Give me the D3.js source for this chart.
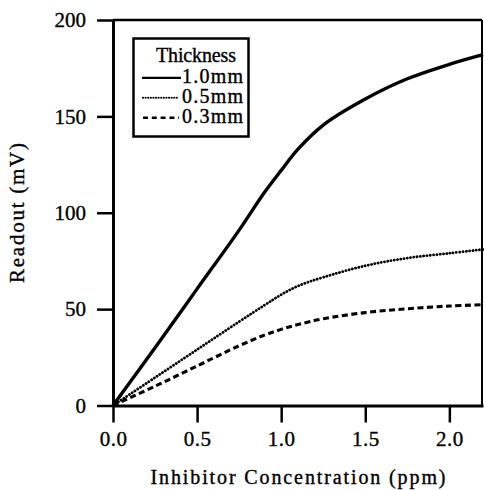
<!DOCTYPE html>
<html><head><meta charset="utf-8">
<script src="https://cdn.jsdelivr.net/npm/d3@7"></script>
<style>
html,body{margin:0;padding:0;background:#fff;}
svg{display:block;}
</style></head>
<body>
<svg id="chart" width="484" height="490"></svg>
<script>
// ---- data ----
const concentration = [0, 0.25, 0.5, 0.75, 0.9, 1.0, 1.1, 1.25, 1.5, 1.75, 2.0, 2.2];
const readout10 = [0, 30, 60.5, 91, 110.5, 122, 133, 145.5, 159, 169.5, 177, 182];
const readout05 = [0, 14.5, 29, 43.5, 52, 57.5, 62, 66.5, 72.5, 76.5, 79, 81];
const readout03 = [0, 10, 20.5, 31, 36.5, 39.5, 42, 45, 48.2, 50.2, 51.6, 52.3];
const seriesNames = ["1.0mm", "0.5mm", "0.3mm"];
const xTicks = [0, 0.5, 1.0, 1.5, 2.0];
const yTicks = [0, 50, 100, 150, 200];
const xTitle = "Inhibitor  Concentration (ppm)";
const yTitle = "Readout (mV)";
const legendTitle = "Thickness";

const FONT = "Liberation Serif";
const svg = d3.select("#chart");
const L = 113, R = 483, T = 20, B = 405.5;
const x = d3.scaleLinear().domain([0, 2.2]).range([L, R]);
const y = d3.scaleLinear().domain([0, 200]).range([B, T]);

function ink(sel) { return sel.attr("font-family", FONT).attr("fill", "#000").attr("stroke", "#000").attr("stroke-width", 0.35); }

// frame top/right
svg.append("line").attr("x1", L).attr("x2", R - 1).attr("y1", T).attr("y2", T)
  .attr("stroke", "#000").attr("stroke-width", 2.5);
svg.append("line").attr("x1", R - 1).attr("x2", R - 1).attr("y1", T).attr("y2", B)
  .attr("stroke", "#000").attr("stroke-width", 2);

// axes
const yAxis = svg.append("g").attr("transform", `translate(${L},0)`)
  .call(d3.axisLeft(y).tickValues(yTicks).tickSize(16).tickSizeOuter(0).tickPadding(11));
const xAxis = svg.append("g").attr("transform", `translate(0,${B})`)
  .call(d3.axisBottom(x).tickValues(xTicks).tickSize(17).tickSizeOuter(0).tickPadding(9).tickFormat(d3.format(".1f")));
[yAxis, xAxis].forEach(g => {
  g.attr("font-family", FONT);
  g.select(".domain").attr("stroke", "#000").attr("stroke-width", 3);
  g.selectAll(".tick line").attr("stroke", "#000").attr("stroke-width", 2.5);
  ink(g.selectAll(".tick text")).attr("font-size", 21);
});
xAxis.selectAll(".tick text").attr("letter-spacing", 0.5);

// titles
ink(svg.append("text")).attr("x", 298).attr("y", 484).attr("text-anchor", "middle")
  .attr("font-size", 20).attr("textLength", 295).text(xTitle);
ink(svg.append("text")).attr("transform", "translate(24,213) rotate(-90)").attr("text-anchor", "middle")
  .attr("font-size", 21).attr("textLength", 140).text(yTitle);

// lines
const series = [
  {name: seriesNames[0], vals: readout10, w: 3.4, dash: null, cap: "butt"},
  {name: seriesNames[1], vals: readout05, w: 2.8, dash: "0.1,3.2", cap: "round"},
  {name: seriesNames[2], vals: readout03, w: 3.1, dash: "6,3.5", cap: "butt"}
];
const line = d3.line().x(d => x(d[0])).y(d => y(d[1])).curve(d3.curveCatmullRom.alpha(0.5));
series.forEach(s => {
  svg.append("path")
    .datum(concentration.map((c, i) => [c, s.vals[i]]))
    .attr("d", line)
    .attr("fill", "none").attr("stroke", "#000")
    .attr("stroke-width", s.w)
    .attr("stroke-linecap", s.cap)
    .attr("stroke-dasharray", s.dash);
});

// legend
const lg = svg.append("g");
lg.append("rect").attr("x", 133.5).attr("y", 38.5).attr("width", 115).attr("height", 98)
  .attr("fill", "#fff").attr("stroke", "#000").attr("stroke-width", 2.5);
ink(lg.append("text")).attr("x", 196).attr("y", 61.5).attr("text-anchor", "middle")
  .attr("font-size", 20).attr("textLength", 80).text(legendTitle);
const legStyles = [
  {w: 2.2, dash: null, cap: "butt", x1: 142, x2: 181},
  {w: 2.1, dash: "0.1,2.5", cap: "round", x1: 143, x2: 179},
  {w: 2.4, dash: "5,3.8", cap: "butt", x1: 143, x2: 179}
];
seriesNames.forEach((n, i) => {
  const yy = 83.3 + i * 20;
  lg.append("line").attr("x1", legStyles[i].x1).attr("x2", legStyles[i].x2)
    .attr("y1", yy - 5.5).attr("y2", yy - 5.5)
    .attr("stroke", "#000").attr("stroke-width", legStyles[i].w)
    .attr("stroke-linecap", legStyles[i].cap)
    .attr("stroke-dasharray", legStyles[i].dash);
  ink(lg.append("text")).attr("x", 182).attr("y", yy).attr("font-size", 20)
    .attr("textLength", 61).text(n);
});
</script>
</body></html>
